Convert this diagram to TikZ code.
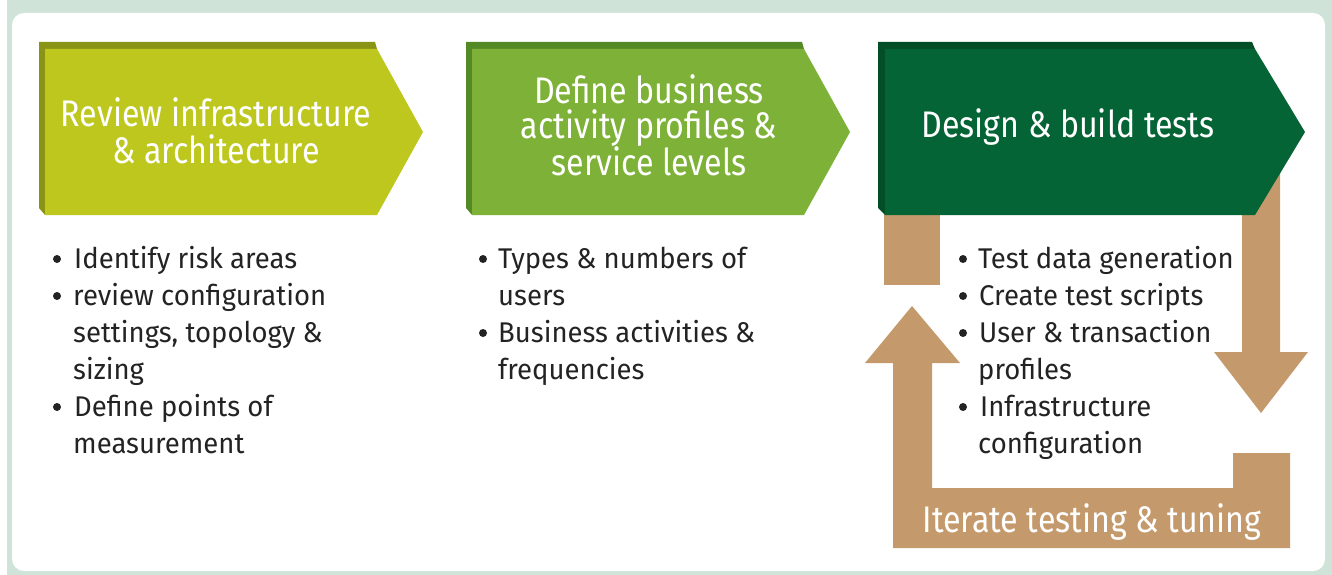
\documentclass[tikz,border=0pt]{standalone}
\usepackage{fontspec}
\setmainfont{Fira Sans}
\newfontfamily\titlefont[FakeStretch=0.87]{Fira Sans}
\newfontfamily\bodyfont[FakeStretch=0.965]{Fira Sans}
\definecolor{band}{HTML}{CFE3D8}
\definecolor{limeF}{HTML}{BEC71E}
\definecolor{limeS}{HTML}{8A9414}
\definecolor{grnF}{HTML}{7DB137}
\definecolor{grnS}{HTML}{548A26}
\definecolor{dkF}{HTML}{056435}
\definecolor{dkS}{HTML}{034D27}
\definecolor{tan}{HTML}{C4996B}
\definecolor{txt}{HTML}{232323}
\tikzset{
  titletext/.style={inner sep=0pt, anchor=base, text=white, font=\titlefont\fontsize{37}{36}\selectfont},
  bodytext/.style={inner sep=0pt, anchor=base west, text=txt, font=\bodyfont\fontsize{28.5}{37}\selectfont},
  bul/.style={circle, inner sep=0pt, minimum size=8pt, fill=txt},
}
\begin{document}
\begin{tikzpicture}[x=1pt,y=-1pt]
\useasboundingbox (0,0) rectangle (1332,575);
% frame
\fill[white] (0,0) rectangle (1332,575);
\fill[band] (7,0) rectangle (1332,575);
\fill[white, rounded corners=12pt] (12,13) rectangle (1325,571);

% tan shapes behind chevron 3
\fill[tan] (884,200) rectangle (940,285);
\fill[tan] (1242,150) -- (1280,150) -- (1280,352) -- (1308,352) -- (1261,413)
  -- (1214,352) -- (1242,352) -- cycle;
\fill[tan] (893,548) -- (1290,548) -- (1290,453) -- (1233,453) -- (1233,488)
  -- (932,488) -- (932,363) -- (960,363) -- (912,306) -- (865,363) -- (893,363) -- cycle;

% chevron 1
\fill[limeS] (39,42) -- (375,42) -- (377,49) -- (45,49) -- (45,215) -- (39,208) -- cycle;
\fill[limeF] (45,49) -- (377,49) -- (423,132) -- (377,215) -- (45,215) -- cycle;
% chevron 2
\fill[grnS] (466,42) -- (802,42) -- (804,49) -- (472,49) -- (472,215) -- (466,208) -- cycle;
\fill[grnF] (472,49) -- (804,49) -- (850,132) -- (804,215) -- (472,215) -- cycle;
% chevron 3
\fill[dkS] (878,42) -- (1252,42) -- (1255,49) -- (885,49) -- (885,215) -- (878,208) -- cycle;
\fill[dkF] (885,49) -- (1255,49) -- (1305,132) -- (1255,215) -- (885,215) -- cycle;

% titles
\node[titletext] (t1a) at (216,127) {Review infrastructure};
\node[titletext] (t1b) at (216,163) {\& architecture};
\node[titletext] (t2a) at (649,103) {Define business};
\node[titletext] (t2b) at (649,139) {activity profiles \&};
\node[titletext] (t2c) at (649,175) {service levels};
\node[titletext] (t3a) at (1068,138) {Design \& build tests};
\node[titletext] (t4a) at (1092,532) {Iterate testing \& tuning};

% column 1
\node[bul] (p1) at (57,259) {};
\node[bodytext] (c1a) at (74,268) {Identify risk areas};
\node[bul] (p2) at (57,296) {};
\node[bodytext] (c1b) at (73,305) {review configuration};
\node[bodytext] (c1c) at (73,342) {settings, topology \&};
\node[bodytext] (c1d) at (73,379) {sizing};
\node[bul] (p3) at (57,407) {};
\node[bodytext] (c1e) at (74,416) {Define points of};
\node[bodytext] (c1f) at (73,453) {measurement};

% column 2
\node[bul] (q1) at (483,259) {};
\node[bodytext] (c2a) at (498,268) {Types \& numbers of};
\node[bodytext] (c2b) at (498,305) {users};
\node[bul] (q2) at (483,333) {};
\node[bodytext] (c2c) at (498,342) {Business activities \&};
\node[bodytext] (c2d) at (498,379) {frequencies};

% column 3
\node[bul] (r1) at (963,259) {};
\node[bodytext] (c3a) at (978,268) {Test data generation};
\node[bul] (r2) at (963,296) {};
\node[bodytext] (c3b) at (979,305) {Create test scripts};
\node[bul] (r3) at (963,333) {};
\node[bodytext] (c3c) at (979,342) {User \& transaction};
\node[bodytext] (c3d) at (978,379) {profiles};
\node[bul] (r4) at (963,407) {};
\node[bodytext] (c3e) at (980,416) {Infrastructure};
\node[bodytext] (c3f) at (978,453) {configuration};
\end{tikzpicture}
\end{document}
